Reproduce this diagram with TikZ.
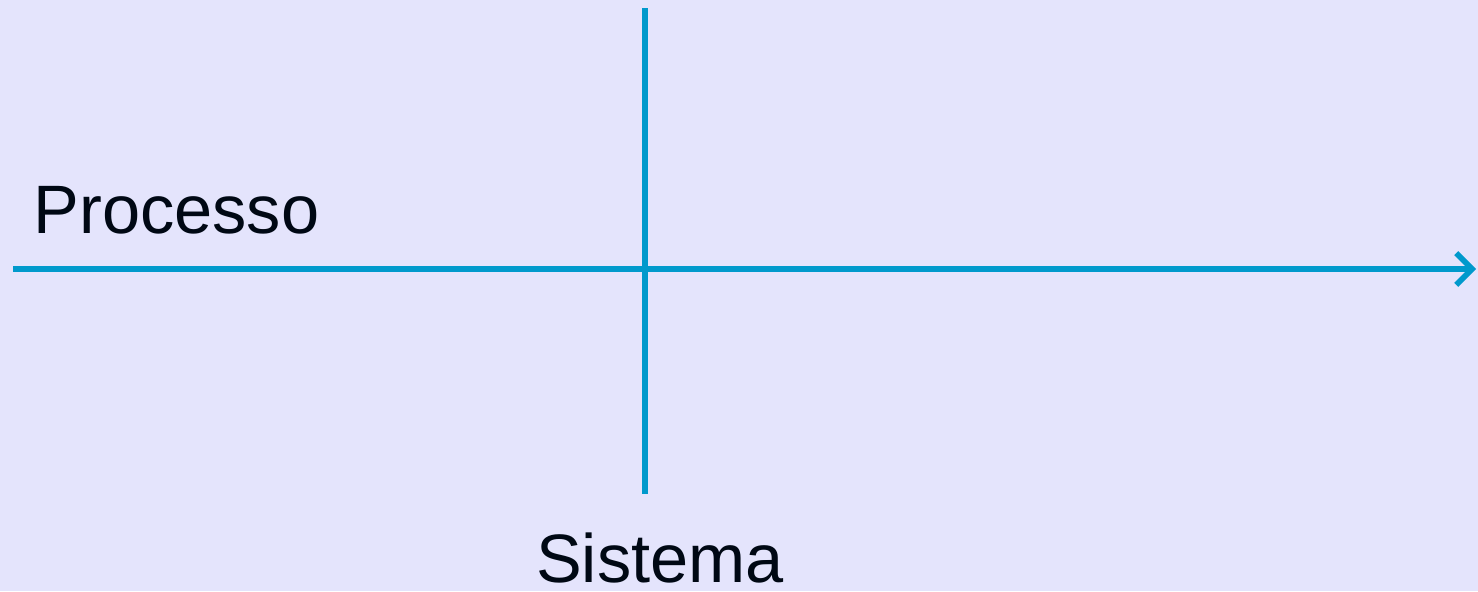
\documentclass[tikz,border=0pt]{standalone}
\usepackage{fontspec}
\setmainfont{Liberation Sans}
\usetikzlibrary{arrows.meta}
\definecolor{bgcol}{HTML}{E4E4FC}
\definecolor{axiscol}{HTML}{0099CC}
\definecolor{inkcol}{HTML}{000814}

\begin{document}
\begin{tikzpicture}[
  axis/.style  = {draw=axiscol, line width=1.6pt},
  flow/.style  = {axis, -{Straight Barb[length=4.5pt,width=9pt,line width=1.6pt]}},
  lbl/.style   = {text=inkcol, inner sep=0pt, font=\fontsize{19.5}{23}\selectfont},
]
  % page: the lavender field fixes the margins
  \fill[bgcol] (0,0) rectangle (14.78,5.91);
  \useasboundingbox (0,0) rectangle (14.78,5.91);

  \coordinate (pin)  at (0.13,3.22);
  \coordinate (pout) at (14.76,3.22);
  \coordinate (stop) at (6.45,5.83);
  \coordinate (sbot) at (6.45,0.97);

  \draw[flow] (pin) -- (pout);
  \draw[axis] (stop) -- (sbot);

  \node[lbl, anchor=base west] (proc) at (0.33,3.58) {Processo};
  \node[lbl, anchor=base] (sist) at (6.60,0.09) {Sistema};
\end{tikzpicture}
\end{document}
